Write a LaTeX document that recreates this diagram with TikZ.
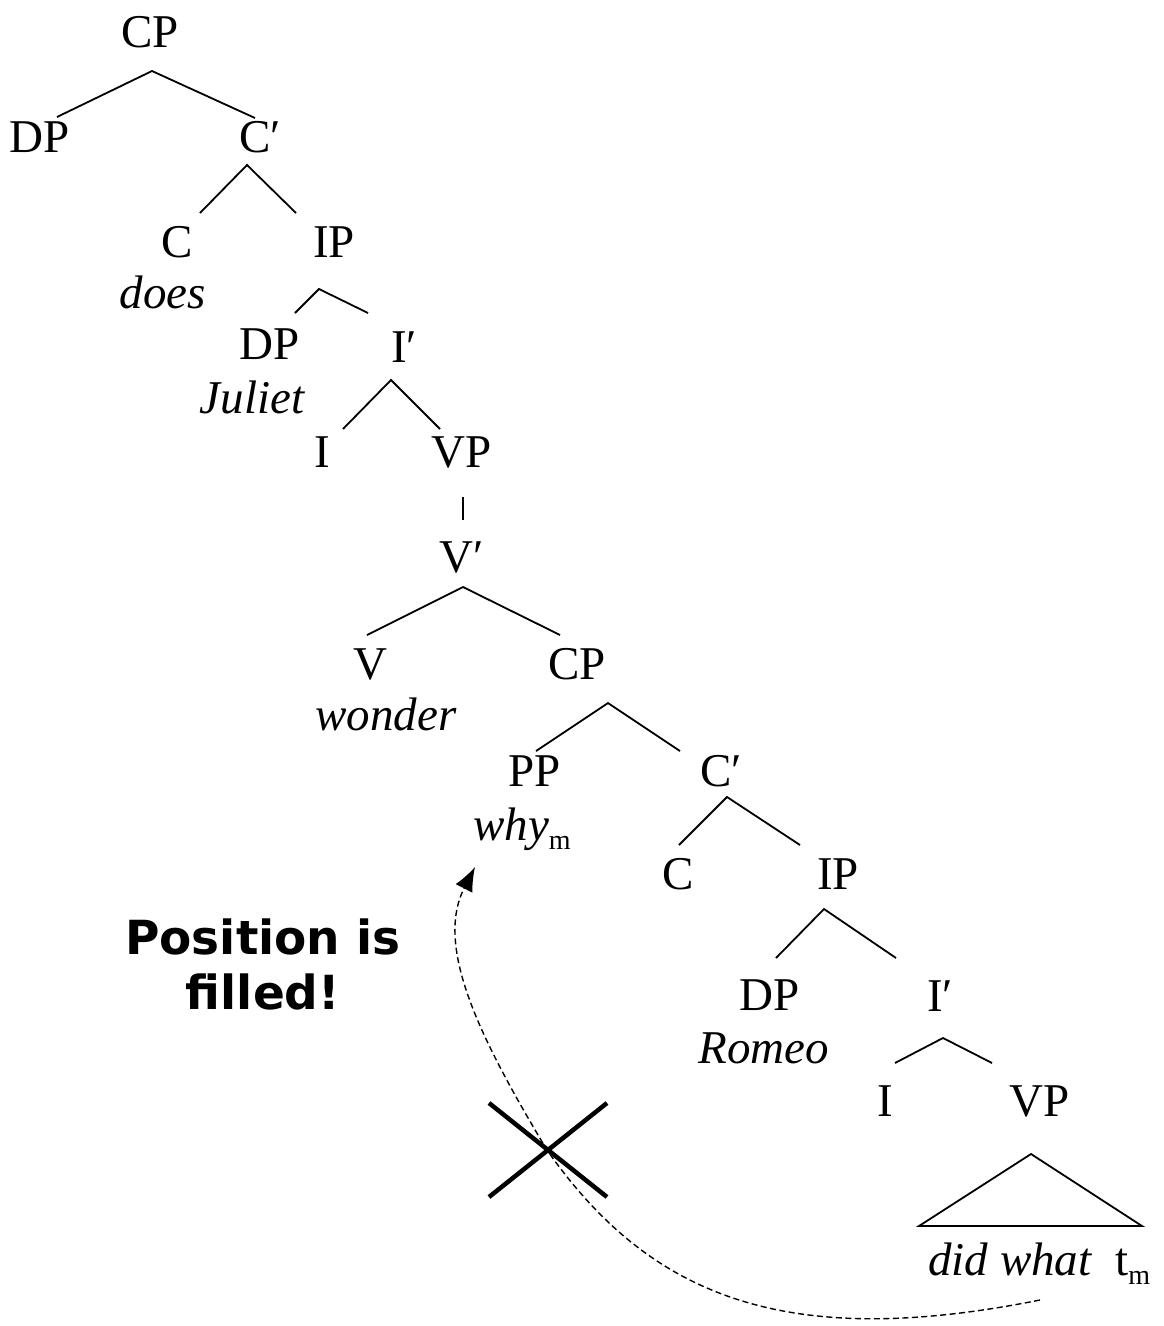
\documentclass[tikz,border=0pt]{standalone}
\usepackage{fontspec}
\setmainfont{Liberation Serif}
\newfontfamily\notefont{DejaVu Sans}
\usetikzlibrary{arrows.meta}

\newcommand\trsub[1]{\raisebox{-9pt}{\fontsize{28}{30}\selectfont\upshape #1}}

\tikzset{
    cat/.style={anchor=base,inner sep=0pt,font=\fontsize{47}{50}\selectfont},
    lex/.style={cat,font=\fontsize{47}{50}\selectfont\itshape},
    branch/.style={line width=1.8pt},
    move/.style={line width=1.4pt,dash pattern=on 6pt off 3.5pt,-{Latex[length=24pt,width=19pt]}},
    cross/.style={line width=4.5pt}
}

\begin{document}
\begin{tikzpicture}[x=1pt,y=-1pt]
            \useasboundingbox (0,0) rectangle (1163,1326);

            \foreach \n/\x/\y/\t in {cp1/150/47/CP, dp1/40/152/DP, cbar1/260/152/C′,
                c1/177/257/C, ip1/334/257/IP, dp2/270/359/DP, ibar1/404/362/I′,
                i1/322/467/I, vp1/462/467/VP, vbar/462/572/V′, v/370/679/V,
                cp2/577/679/CP, pp/535/786/PP, cbar2/721/786/C′, c2/678/889/C,
                ip2/838/889/IP, dp3/770/1010/DP, ibar2/940/1011/I′, i2/885/1116/I,
                vp2/1040/1116/VP}
                {
                    \node[cat] (\n) at (\x,\y) {\t};
                }

            \node[lex] (does) at (163,308) {does};
            \node[lex] (juliet) at (252,413) {Juliet};
            \node[lex] (wonder) at (386,730) {wonder};
            \node[lex] (why) at (522,840) {why\trsub{m}};
            \node[lex] (romeo) at (764,1063) {Romeo};
            \node[lex,anchor=base west] (did) at (928,1275) {did what\hspace{24pt}\upshape t\trsub{m}};

            \node[font=\notefont\bfseries\fontsize{47}{55}\selectfont,align=center,inner sep=0pt] (note) at (263,964) {Position is\\filled!};

            \draw[branch] ([shift={(17,-35)}]dp1.base) -- ([shift={(2,24)}]cp1.base) -- ([shift={(-5,-34)}]cbar1.base);
            \draw[branch] ([shift={(23,-44)}]c1.base) -- ([shift={(-13,13)}]cbar1.base) -- ([shift={(-38,-44)}]ip1.base);
            \draw[branch] ([shift={(25,-46)}]dp2.base) -- ([shift={(-15,32)}]ip1.base) -- ([shift={(-36,-49)}]ibar1.base);
            \draw[branch] ([shift={(21,-38)}]i1.base) -- ([shift={(-13,18)}]ibar1.base) -- ([shift={(-22,-38)}]vp1.base);
            \draw[branch] ([shift={(1,30)}]vp1.base) -- ([shift={(1,-52)}]vbar.base);
            \draw[branch] ([shift={(-3,-44)}]v.base) -- ([shift={(1,15)}]vbar.base) -- ([shift={(-17,-44)}]cp2.base);
            \draw[branch] ([shift={(1,-35)}]pp.base) -- ([shift={(31,24)}]cp2.base) -- ([shift={(-41,-35)}]cbar2.base);
            \draw[branch] ([shift={(1,-44)}]c2.base) -- ([shift={(6,11)}]cbar2.base) -- ([shift={(-38,-44)}]ip2.base);
            \draw[branch] ([shift={(6,-52)}]dp3.base) -- ([shift={(-14,20)}]ip2.base) -- ([shift={(-44,-53)}]ibar2.base);
            \draw[branch] ([shift={(10,-53)}]i2.base) -- ([shift={(3,27)}]ibar2.base) -- ([shift={(-48,-53)}]vp2.base);
            \draw[branch] ([shift={(-9,-49)}]did.base west) -- ([shift={(-9,38)}]vp2.base) -- ([shift={(214,-49)}]did.base west) -- cycle;

            % blocked path
            \coordinate (block) at (547,1150);
            \draw[cross] ([shift={(-58,-47)}]block) -- ([shift={(60,47)}]block);
            \draw[cross] ([shift={(-58,47)}]block) -- ([shift={(60,-47)}]block);

            \draw[move] ([shift={(112,25)}]did.base west) .. controls +(-250,50) and +(105,150) .. (block)
                .. controls +(-66,-110) and +(-41,80) .. ([shift={(-47,27)}]why.base);
        \end{tikzpicture}
\end{document}
